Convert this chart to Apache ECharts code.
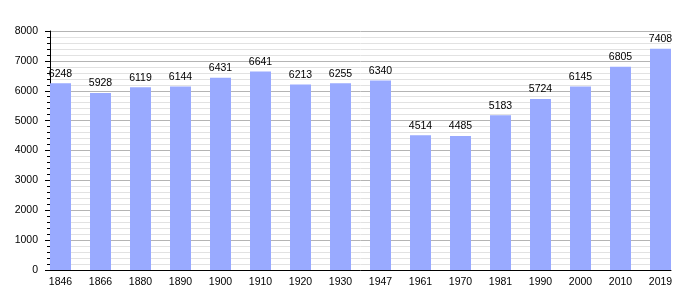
<!DOCTYPE html>
<html><head><meta charset="utf-8">
<script src="https://cdn.jsdelivr.net/npm/echarts@6/dist/echarts.min.js"></script>
<style>html,body{margin:0;padding:0;background:#fff}#c{width:700px;height:300px}</style>
</head><body><div id="c"></div>
<script>
var years = ['1846','1866','1880','1890','1900','1910','1920','1930','1947','1961','1970','1981','1990','2000','2010','2019'];
var population = [6248,5928,6119,6144,6431,6641,6213,6255,6340,4514,4485,5183,5724,6145,6805,7408];
var font = 'Liberation Sans, Arial, sans-serif';
var fs = 10.5;
var chart = echarts.init(document.getElementById('c'));
chart.setOption({
  animation:false,
  grid:[
    {left:50,right:29,top:31,bottom:30},
    {left:60.5,right:39.5,top:31,bottom:30}
  ],
  xAxis:[
    {gridIndex:0,type:'category',data:years,
      axisLine:{lineStyle:{color:'#000',width:1}},
      axisTick:{show:false},axisLabel:{show:false},splitLine:{show:false}},
    {gridIndex:1,type:'category',data:years,boundaryGap:false,
      axisLine:{show:false},axisTick:{show:false},splitLine:{show:false},
      axisLabel:{color:'#000',fontSize:fs,fontFamily:font,margin:7}}
  ],
  yAxis:[
    {gridIndex:0,type:'value',min:0,max:8000,interval:1000,
      axisLine:{show:true,lineStyle:{color:'#000'}},
      axisTick:{show:true,length:5,lineStyle:{color:'#000'}},
      minorTick:{show:true,splitNumber:5,length:3,lineStyle:{color:'#000'}},
      splitLine:{lineStyle:{color:'#b4b4b4'}},
      minorSplitLine:{show:true,lineStyle:{color:'#e2e2e2'}},
      axisLabel:{color:'#000',fontSize:fs,fontFamily:font,margin:12,
        formatter:function(v){return String(v);}}},
    {gridIndex:1,type:'value',min:0,max:8000,show:false,splitLine:{show:false}}
  ],
  series:[{type:'bar',xAxisIndex:1,yAxisIndex:1,data:population,barWidth:21,
    itemStyle:{color:'#99aaff'},
    label:{show:true,position:'top',distance:4,color:'#000',fontSize:fs,fontFamily:font}}]
});
</script></body></html>
